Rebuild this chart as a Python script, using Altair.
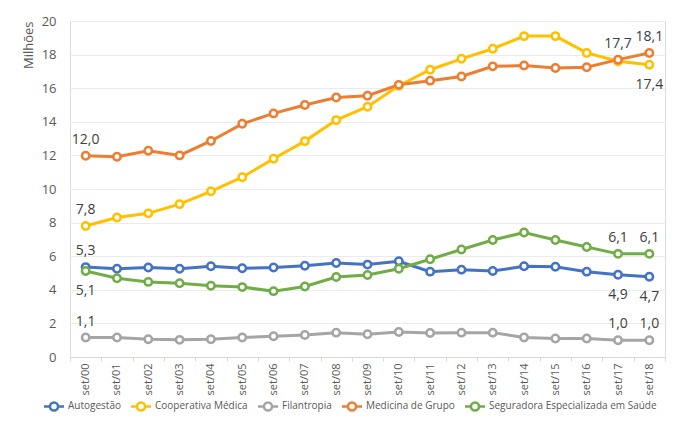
import altair as alt
import pandas as pd

periods = ["set/00", "set/01", "set/02", "set/03", "set/04", "set/05", "set/06",
           "set/07", "set/08", "set/09", "set/10", "set/11", "set/12", "set/13",
           "set/14", "set/15", "set/16", "set/17", "set/18"]

series_names = ["Autogestão", "Cooperativa Médica", "Filantropia",
                "Medicina de Grupo", "Seguradora Especializada em Saúde"]
series_colors = ["#4472C4", "#FFC000", "#A5A5A5", "#ED7D31", "#70AD47"]

autogestao = [5.35, 5.25, 5.33, 5.25, 5.40, 5.28, 5.33, 5.43, 5.60, 5.50,
              5.70, 5.08, 5.20, 5.12, 5.40, 5.37, 5.08, 4.90, 4.78]
cooperativa = [7.80, 8.30, 8.55, 9.10, 9.86, 10.70, 11.80, 12.85, 14.10, 14.90,
               16.15, 17.10, 17.75, 18.35, 19.10, 19.10, 18.10, 17.60, 17.40]
filantropia = [1.16, 1.16, 1.06, 1.02, 1.06, 1.16, 1.24, 1.31, 1.45, 1.35,
               1.49, 1.43, 1.45, 1.45, 1.16, 1.10, 1.10, 1.00, 1.00]
medicina = [11.98, 11.92, 12.28, 12.00, 12.86, 13.88, 14.50, 15.00, 15.45, 15.55,
            16.20, 16.45, 16.70, 17.30, 17.35, 17.20, 17.25, 17.70, 18.10]
seguradora = [5.12, 4.69, 4.47, 4.39, 4.24, 4.16, 3.92, 4.20, 4.76, 4.88,
              5.25, 5.82, 6.40, 6.96, 7.41, 6.96, 6.55, 6.14, 6.14]

all_values = [autogestao, cooperativa, filantropia, medicina, seguradora]

label_series = ["Medicina de Grupo", "Cooperativa Médica", "Autogestão",
                "Seguradora Especializada em Saúde", "Filantropia",
                "Medicina de Grupo", "Medicina de Grupo", "Cooperativa Médica",
                "Seguradora Especializada em Saúde", "Seguradora Especializada em Saúde",
                "Autogestão", "Autogestão", "Filantropia", "Filantropia"]
label_periods = ["set/00", "set/00", "set/00", "set/00", "set/00",
                 "set/17", "set/18", "set/18", "set/17", "set/18",
                 "set/17", "set/18", "set/17", "set/18"]
label_texts = ["12,0", "7,8", "5,3", "5,1", "1,1",
               "17,7", "18,1", "17,4", "6,1", "6,1",
               "4,9", "4,7", "1,0", "1,0"]
label_pos = ["above", "above", "above", "below", "above",
             "above", "above", "below", "above", "above",
             "below", "below", "above", "above"]

rows = []
for name, vals in zip(series_names, all_values):
    for p, v in zip(periods, vals):
        rows.append({"periodo": p, "serie": name, "valor": v})
df = pd.DataFrame(rows)

lab_rows = []
for s, p, t, pos in zip(label_series, label_periods, label_texts, label_pos):
    v = all_values[series_names.index(s)][periods.index(p)]
    lab_rows.append({"periodo": p, "serie": s, "valor": v, "texto": t, "pos": pos})
labels = pd.DataFrame(lab_rows)

FONT = "Open Sans"
legend_symbol = ("M-1.2,0L-0.48,0M0.48,0L1.2,0"
                 "M-0.48,0A0.48,0.48,0,1,1,0.48,0A0.48,0.48,0,1,1,-0.48,0Z")

x_enc = alt.X("periodo:N", sort=periods, title=None,
              scale=alt.Scale(paddingInner=0, paddingOuter=0),
              axis=alt.Axis(labelAngle=-90, labelFontSize=11, labelColor="#595959",
                            labelFont=FONT, tickBand="extent", tickSize=4,
                            tickColor="#D9D9D9", domainColor="#D9D9D9",
                            labelPadding=2, grid=False))
y_enc = alt.Y("valor:Q", title="Milhões",
              scale=alt.Scale(domain=[0, 20], nice=False),
              axis=alt.Axis(values=list(range(0, 21, 2)), tickSize=0, domain=False,
                            labelOverlap=False,
                            labelFontSize=13, labelColor="#595959", labelFont=FONT,
                            labelPadding=14, gridColor="#EBEBEB", gridWidth=1,
                            titleFontSize=13, titleFont=FONT, titleColor="#595959",
                            titleFontWeight="normal", titleAnchor="end",
                            titlePadding=6))
color_enc = alt.Color("serie:N", sort=series_names,
                      scale=alt.Scale(domain=series_names, range=series_colors),
                      legend=alt.Legend(title=None, orient="none", direction="horizontal",
                                        legendX=-26, legendY=375, columns=5,
                                        symbolType=legend_symbol, symbolSize=280,
                                        symbolStrokeWidth=2.5, symbolFillColor="white",
                                        labelFont=FONT, labelFontSize=10, labelLimit=400,
                                        labelColor="#595959", columnPadding=4,
                                        labelOffset=4))

base = alt.Chart(df)
lines = base.mark_line(strokeWidth=3).encode(x=x_enc, y=y_enc, color=color_enc)
points = base.mark_point(filled=True, fill="white", size=55, strokeWidth=2.5,
                         opacity=1).encode(
    x=x_enc, y=y_enc,
    stroke=alt.Stroke("serie:N", scale=alt.Scale(domain=series_names, range=series_colors),
                      legend=None))

lab_base = alt.Chart(labels)
above = lab_base.transform_filter(alt.datum.pos == "above").mark_text(
    dy=-16, fontSize=14, font=FONT, color="#404040", baseline="middle").encode(
    x=x_enc, y=y_enc, text="texto:N")
below = lab_base.transform_filter(alt.datum.pos == "below").mark_text(
    dy=20, fontSize=14, font=FONT, color="#404040", baseline="middle").encode(
    x=x_enc, y=y_enc, text="texto:N")

chart = alt.layer(lines, points, above, below).properties(
    width=595, height=336,
    padding={"left": 14, "top": 7, "right": 0, "bottom": 0}
).configure_view(stroke=None).configure(background="white")

chart.save("out.html", embed_options={"renderer": "svg", "actions": False})
